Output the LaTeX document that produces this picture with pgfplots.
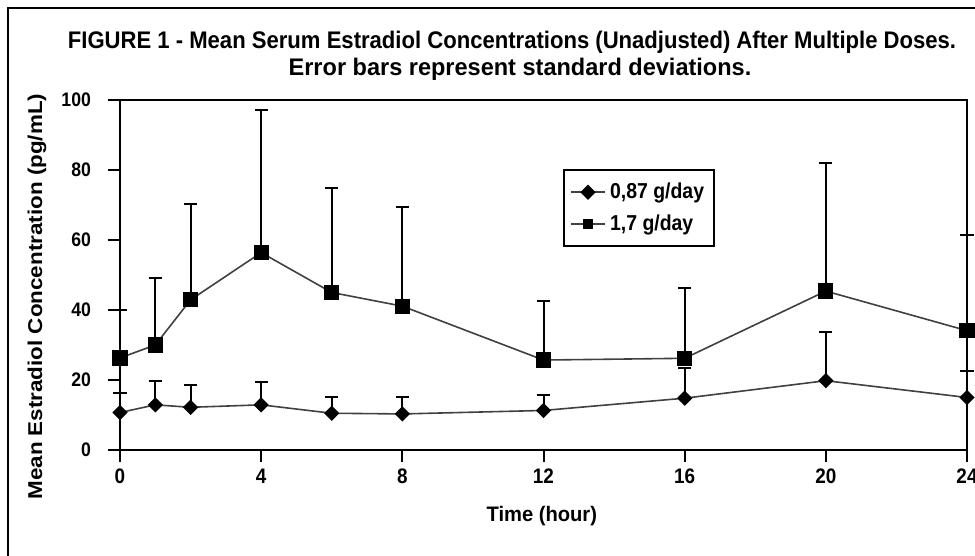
\documentclass[border=0pt]{standalone}
\usepackage{fontspec}
\setmainfont{Liberation Sans}[FakeStretch=0.9]
\newfontfamily\fA{Liberation Sans}[FakeStretch=0.92]
\newfontfamily\fB{Liberation Sans}[FakeStretch=0.98]
\newfontfamily\fY{Liberation Sans}[FakeStretch=1.12]
\newfontfamily\fX{Liberation Sans}[FakeStretch=0.96]
\usepackage{pgfplots}
\pgfplotsset{compat=1.18}
\pgfplotstableread{
t m e
0 10.7 5.5
1 12.9 6.9
2 12.2 6.5
4 12.9 6.4
6 10.5 4.7
8 10.3 4.9
12 11.3 4.4
16 14.8 8.5
20 19.8 14.0
24 15.0 7.7
}\lowdose
\pgfplotstableread{
t m e
0 26.3 13.7
1 30.0 19.0
2 42.9 27.3
4 56.4 40.6
6 45.0 29.8
8 41.1 28.4
12 25.7 17.0
16 26.2 20.0
20 45.4 36.6
24 34.1 27.3
}\highdose
\begin{document}
\begin{tikzpicture}
\clip (0pt,0pt) rectangle (487.5pt,278pt);
\draw[line width=1pt] (4pt,-10pt) rectangle (500pt,274pt);
\node[font=\fA\bfseries\fontsize{12}{13}\selectfont] at (256pt,257pt) {FIGURE 1 - Mean Serum Estradiol Concentrations (Unadjusted) After Multiple Doses.};
\node[font=\fB\bfseries\fontsize{12}{13}\selectfont] at (260pt,243.5pt) {Error bars represent standard deviations.};
\begin{axis}[
  at={(60pt,53pt)}, anchor=south west,
  scale only axis, width=423.5pt, height=175pt,
  xmin=0, xmax=24, ymin=0, ymax=100,
  xtick={0,4,...,24}, ytick={0,20,...,100},
  tick pos=left, tick align=outside, major tick length=6pt,
  axis line style={line width=1pt},
  every tick/.style={line width=1pt, black},
  clip=false,
  /pgf/number format/assume math mode=true,
  yticklabel style={font=\bfseries\fontsize{9.8}{11}\selectfont, xshift=-5pt},
  xticklabel style={font=\bfseries\fontsize{10.5}{11}\selectfont},
  xlabel={Time (hour)},
  ylabel={Mean Estradiol Concentration (pg/mL)},
  xlabel style={at={(axis description cs:0.498,-0.189)}, anchor=center, font=\fX\bfseries\fontsize{10.5}{11}\selectfont},
  ylabel style={at={(axis description cs:-0.098,0.438)}, anchor=center, font=\fY\bfseries\fontsize{10}{11}\selectfont},
  legend style={at={(rel axis cs:0.523,0.803)}, anchor=north west, draw=black, line width=1pt,
    font=\bfseries\fontsize{10.8}{11}\selectfont, cells={anchor=west}, row sep=2.5pt,
    inner xsep=3pt, inner ysep=4.5pt},
  legend image post style={mark size=2.2pt, line width=1pt},
]
\addplot[black!75, line width=0.8pt, mark=square*, mark size=2.3pt, mark options={black, solid, rotate=45},
  error bars/.cd, y dir=plus, y explicit,
  error bar style={line width=1pt, black},
  error mark=-,
  error mark options={rotate=90, line width=1pt, mark size=3.3pt, black}]
  table[x=t, y=m, y error=e] {\lowdose};
\addlegendentry{0,87 g/day\hspace{9pt}}
\addplot[black!75, line width=0.8pt, mark=square*, mark size=3.4pt, mark options={black, solid},
  error bars/.cd, y dir=plus, y explicit,
  error bar style={line width=1pt, black},
  error mark=-,
  error mark options={rotate=90, line width=1pt, mark size=3.3pt, black}]
  table[x=t, y=m, y error=e] {\highdose};
\addlegendentry{1,7 g/day}
\end{axis}
\end{tikzpicture}
\end{document}
